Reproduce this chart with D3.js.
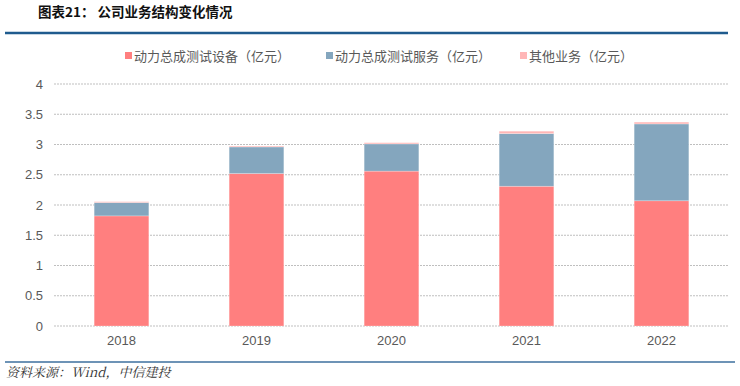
<!DOCTYPE html>
<html><head><meta charset="utf-8">
<script src="https://cdn.jsdelivr.net/npm/d3@7"></script>
<style>
body{margin:0;background:#fff;}
svg{display:block;}
</style></head>
<body>
<svg id="c" width="740" height="386"></svg>
<script>
const years = ["2018","2019","2020","2021","2022"];
const equipment = [1.82, 2.52, 2.56, 2.31, 2.07];
const service = [0.22, 0.44, 0.45, 0.87, 1.27];
const other = [0.015, 0.015, 0.02, 0.04, 0.03];
const seriesNames = ["动力总成测试设备（亿元）","动力总成测试服务（亿元）","其他业务（亿元）"];
const yTicks = [0,0.5,1,1.5,2,2.5,3,3.5,4];
const colors = ["#FF7F7F","#84A6BE","#FFB6B6"];

const svg = d3.select("#c");
const font = "'Noto Sans CJK SC', 'Liberation Sans', sans-serif";

// title
svg.append("text").attr("x",38).attr("y",17).attr("font-family",font)
  .attr("font-size",13.5).attr("font-weight","bold").attr("fill","#111")
  .text("图表21：  公司业务结构变化情况");
svg.append("line").attr("x1",5).attr("x2",728).attr("y1",33).attr("y2",33)
  .attr("stroke","#1F5B8E").attr("stroke-width",2.5);

const x = d3.scaleBand().domain(years).range([54,729]).paddingInner(0.595).paddingOuter(0.2975);
const y = d3.scaleLinear().domain([0,4]).range([326,84]);

// grid
svg.append("g").selectAll("line").data(yTicks).join("line")
  .attr("x1",54).attr("x2",728).attr("y1",d=>y(d)).attr("y2",d=>y(d))
  .attr("stroke","#BFBFBF").attr("stroke-width",1).attr("stroke-dasharray","2,1");

// y axis labels
const yAxis = d3.axisLeft(y).tickValues(yTicks).tickSize(0).tickPadding(0).tickFormat(d=>String(d));
const ga = svg.append("g").attr("transform","translate(43,0)").call(yAxis);
ga.select(".domain").remove();
ga.selectAll("text").attr("font-family","'Liberation Sans', Arial, sans-serif").attr("font-size",13).attr("fill","#595959");

// x axis labels
const xAxis = d3.axisBottom(x).tickSize(0).tickPadding(0);
const gx = svg.append("g").attr("transform","translate(0,336)").call(xAxis);
gx.select(".domain").remove();
gx.selectAll("text").attr("font-family","'Liberation Sans', Arial, sans-serif").attr("font-size",13).attr("fill","#595959");

// stacked bars
const rows = years.map((yr,i)=>({year:yr, a:equipment[i], b:service[i], c:other[i]}));
const stack = d3.stack().keys(["a","b","c"])(rows);
svg.append("g").selectAll("g").data(stack).join("g")
  .attr("fill",(d,i)=>colors[i])
  .selectAll("rect").data(d=>d).join("rect")
  .attr("x",d=>x(d.data.year)).attr("width",x.bandwidth())
  .attr("y",d=>y(d[1])).attr("height",d=>y(d[0])-y(d[1]))
  .attr("stroke","#ffffff").attr("stroke-opacity",0.35).attr("stroke-width",0.7);

// legend
const legX = [125, 326, 520];
const lg = svg.append("g");
seriesNames.forEach((n,i)=>{
  lg.append("rect").attr("x",legX[i]).attr("y",52).attr("width",7).attr("height",7).attr("fill",colors[i]);
  lg.append("text").attr("x",legX[i]+9).attr("y",60.5).attr("font-family",font)
    .attr("font-size",13).attr("fill","#595959").text(n);
});

// bottom line + source
svg.append("line").attr("x1",5).attr("x2",735).attr("y1",362).attr("y2",362)
  .attr("stroke","#3D6F9E").attr("stroke-width",1.5);
svg.append("text").attr("x",6).attr("y",377).attr("font-family","'Noto Serif CJK SC','Liberation Serif', serif")
  .attr("font-size",13).attr("font-style","italic").attr("fill","#333")
  .text("资料来源：Wind，中信建投");
</script>
</body></html>
